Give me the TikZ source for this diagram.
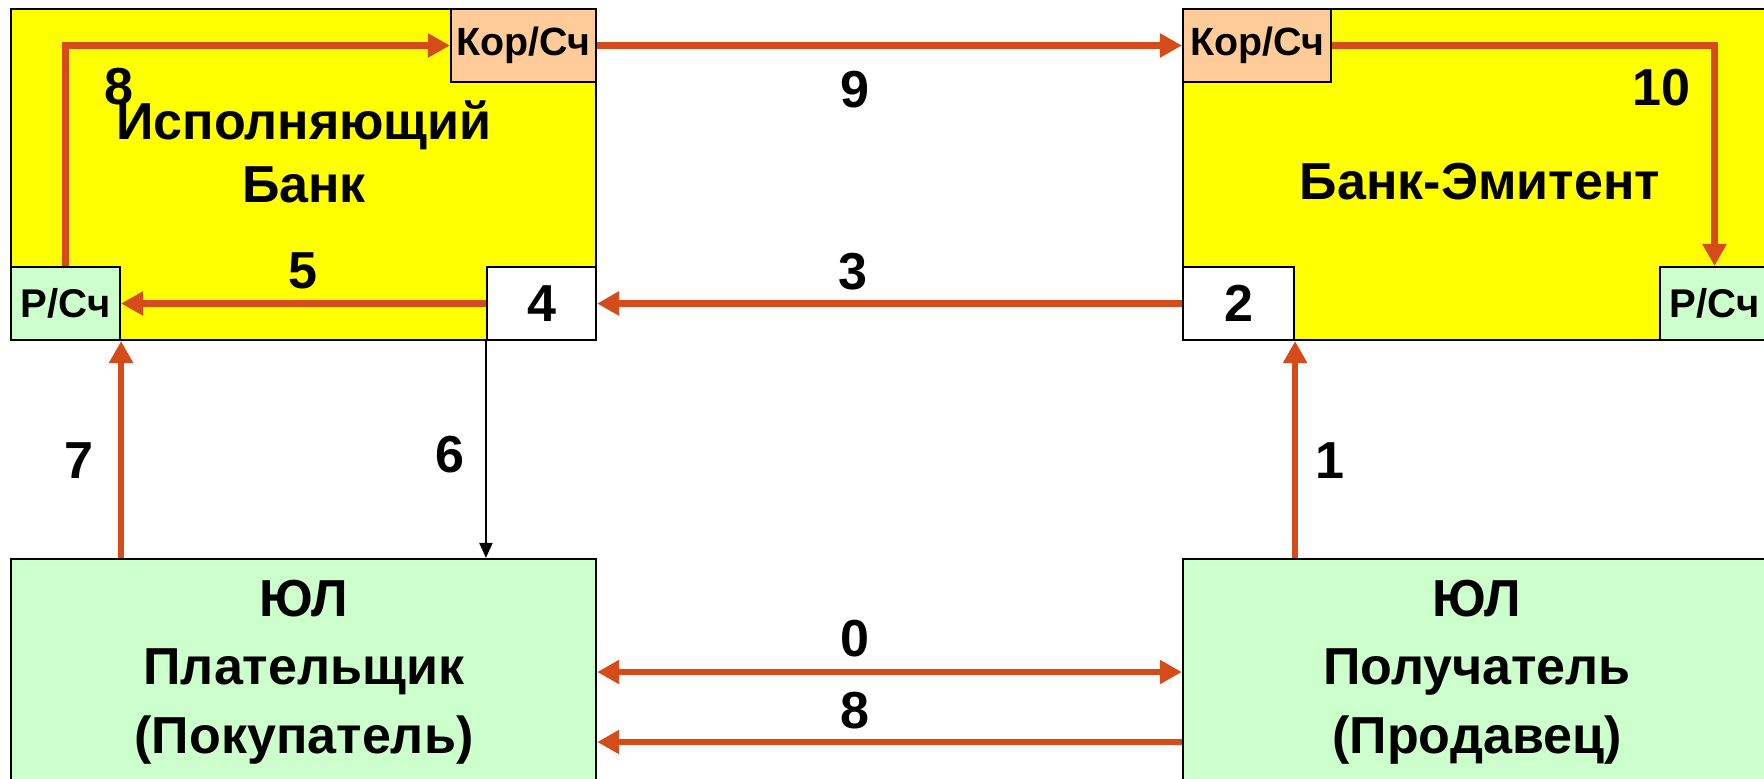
\documentclass[tikz,border=0pt]{standalone}
\usepackage{fontspec}
\setmainfont{Liberation Sans}
\usetikzlibrary{arrows.meta}
\definecolor{arr}{RGB}{213,75,26}
\definecolor{ylw}{RGB}{255,255,0}
\definecolor{grn}{RGB}{204,255,204}
\definecolor{pch}{RGB}{255,204,153}
\begin{document}
\begin{tikzpicture}[x=0.01cm,y=-0.01cm,
  boxbase/.style={draw=black, line width=0.6pt, inner sep=0pt, rectangle},
  bank/.style={boxbase, fill=ylw},
  kor/.style={boxbase, fill=pch, font=\bfseries\fontsize{11.2}{13}\selectfont},
  rs/.style={boxbase, fill=grn, font=\bfseries\fontsize{11.4}{13}\selectfont},
  wbox/.style={boxbase, fill=white, font=\bfseries\fontsize{14.8}{17}\selectfont},
  ul/.style={boxbase, fill=grn},
  big/.style={font=\bfseries\fontsize{14.8}{18}\selectfont, align=center, inner sep=0pt},
  bigul/.style={font=\bfseries\fontsize{14.8}{19.4}\selectfont, align=center, inner sep=0pt},
  num/.style={font=\bfseries\fontsize{14.8}{17}\selectfont, inner sep=0pt},
  oarr/.style={draw=arr, line width=1.85pt, -{Triangle[length=0.22cm,width=0.23cm]}},
  oarr2/.style={draw=arr, line width=1.85pt, {Triangle[length=0.22cm,width=0.23cm]}-{Triangle[length=0.22cm,width=0.23cm]}},
  barr/.style={draw=black, line width=0.6pt, -{Triangle[length=0.15cm,width=0.13cm]}}
]
\useasboundingbox (0,0) rectangle (1764,778);
% main boxes
\node[bank, minimum width=5.85cm, minimum height=3.31cm] (bl) at (303.5,174.5) {};
\node[bank, minimum width=5.86cm, minimum height=3.31cm] (br) at (1476,174.5) {};
\node[ul, minimum width=5.85cm, minimum height=2.31cm] (yul) at (303.5,674.5) {};
\node[ul, minimum width=5.86cm, minimum height=2.31cm] (yur) at (1476,674.5) {};
% sub boxes
\node[kor, minimum width=1.45cm, minimum height=0.73cm] (korl) at (523.5,45.5) {Кор/Сч};
\node[kor, minimum width=1.48cm, minimum height=0.73cm] (korr) at (1257,45.5) {Кор/Сч};
\node[rs, minimum width=1.09cm, minimum height=0.73cm] (rsl) at (65.5,303.5) {Р/Сч};
\node[rs, minimum width=1.09cm, minimum height=0.73cm] (rsr) at (1714.5,303.5) {Р/Сч};
\node[wbox, minimum width=1.09cm, minimum height=0.73cm] (b4) at (541.5,303.5) {4};
\node[wbox, minimum width=1.11cm, minimum height=0.73cm] (b2) at (1238.5,303.5) {2};
% titles
\node[big] (tbl) at (304,152) {Исполняющий\\Банк};
\node[big] (tbr) at (1480,182) {Банк-Эмитент};
\node[bigul] (tyl) at (304,672) {ЮЛ\\Плательщик\\(Покупатель)};
\node[bigul] (tyr) at (1477,672) {ЮЛ\\Получатель\\(Продавец)};
% connectors
\draw[oarr] (rsl.north) |- (korl.west);
\draw[oarr] (korl.east) -- (korr.west);
\draw[oarr] (korr.east) -| (rsr.north);
\draw[oarr] (b2.west) -- (b4.east);
\draw[oarr] (b4.west) -- (rsl.east);
\draw[barr] (b4.south west) -- (b4.south west |- yul.north);
\draw[oarr] (rsl.south east |- yul.north) -- (rsl.south east);
\draw[oarr] (b2.south east |- yur.north) -- (b2.south east);
\coordinate (y0) at (0,672);
\coordinate (y8) at (0,742);
\draw[oarr2] (yul.east |- y0) -- (yur.west |- y0);
\draw[oarr] (yur.west |- y8) -- (yul.east |- y8);
% labels
\node[num] (l8a) at (119,87) {8};
\node[num] (l9) at (855,90) {9};
\node[num] (l10) at (1661,88) {10};
\node[num] (l5) at (303,271) {5};
\node[num] (l3) at (853,272) {3};
\node[num] (l6) at (450,455) {6};
\node[num] (l7) at (79,461) {7};
\node[num] (l1) at (1330,461) {1};
\node[num] (l0) at (855,639) {0};
\node[num] (l8b) at (855,711) {8};
\end{tikzpicture}
\end{document}
